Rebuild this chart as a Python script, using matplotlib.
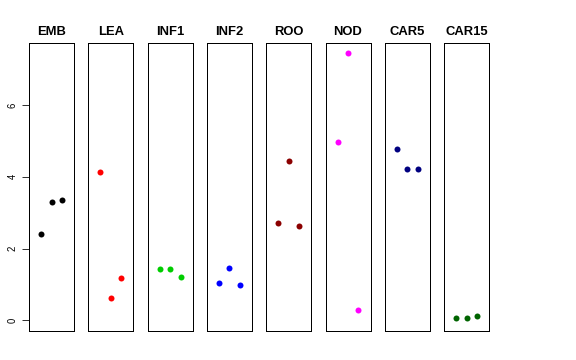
import numpy as np
import matplotlib.pyplot as plt

plt.rcParams['font.family'] = ['Liberation Sans', 'DejaVu Sans']

tissues = ["EMB", "LEA", "INF1", "INF2", "ROO", "NOD", "CAR5", "CAR15"]
colors = ["black", "red", "#00CD00", "blue", "#8B0000", "magenta", "#000080", "#006400"]
reps = [1, 2, 3]

emb = [2.40, 3.31, 3.34]
lea = [4.12, 0.62, 1.18]
inf1 = [1.42, 1.42, 1.21]
inf2 = [1.03, 1.45, 0.97]
roo = [2.71, 4.43, 2.63]
nod = [4.96, 7.44, 0.28]
car5 = [4.77, 4.22, 4.22]
car15 = [0.07, 0.065, 0.13]
values = [emb, lea, inf1, inf2, roo, nod, car5, car15]

fig = plt.figure(figsize=(8, 5), dpi=72)
left, width, step = 29 / 576, 45 / 576, 59.3 / 576
bottom, top = 1 - 331 / 360, 1 - 43 / 360

for i, (name, col, vals) in enumerate(zip(tissues, colors, values)):
    ax = fig.add_axes([left + i * step, bottom, width, top - bottom])
    ax.plot(reps, vals, 'o', color=col, markersize=6, markeredgewidth=0)
    ax.set_xlim(-0.16, 4.16)
    ax.set_ylim(-0.30, 7.73)
    ax.set_xticks([])
    ax.set_title(name, fontsize=13, fontweight='bold', pad=8)
    for s in ax.spines.values():
        s.set_linewidth(1)
    if i == 0:
        ax.set_yticks([0, 2, 4, 6])
        ax.tick_params(axis='y', length=7, labelsize=9.5, pad=4)
        for lab in ax.get_yticklabels():
            lab.set_rotation(90)
            lab.set_va('center')
    else:
        ax.set_yticks([])

fig.savefig("out.png", dpi=72)
